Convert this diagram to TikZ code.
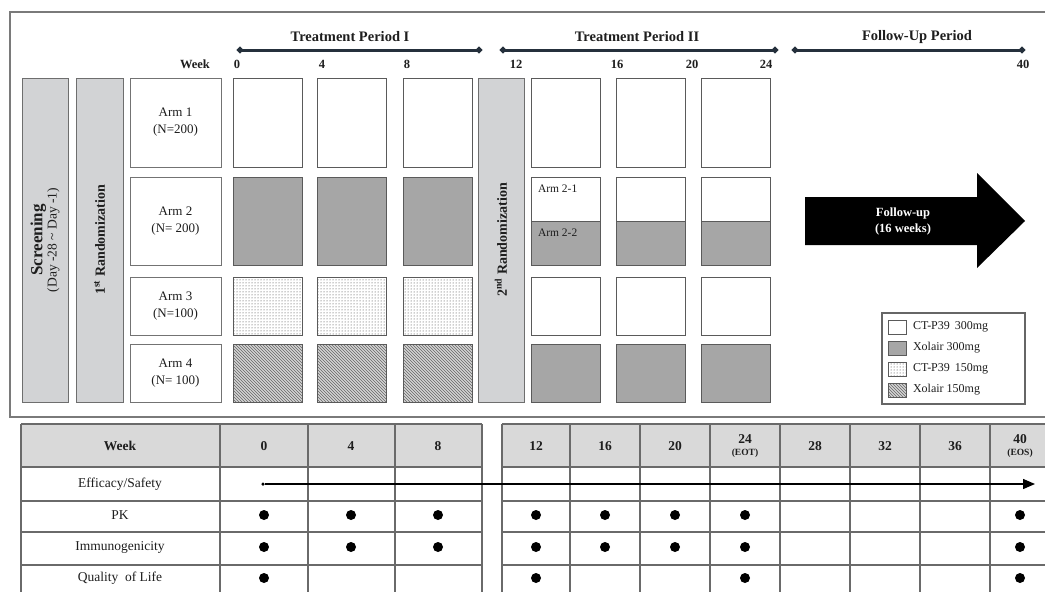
\documentclass[tikz,border=0pt]{standalone}
\usepackage{fontspec}
\setmainfont{Liberation Serif}
\usetikzlibrary{patterns,arrows.meta,fit}
\definecolor{frameC}{HTML}{7A7A7A}
\definecolor{colFill}{HTML}{D2D3D5}
\definecolor{colLine}{HTML}{6E6E6E}
\definecolor{boxLine}{HTML}{5A5A5A}
\definecolor{tGray}{HTML}{A6A6A6}
\definecolor{hatchFill}{HTML}{D4D4D4}
\definecolor{navy}{HTML}{25303C}
\definecolor{hdrFill}{HTML}{D9D9D9}
\definecolor{tabLine}{HTML}{6A6A6A}
\definecolor{txt}{HTML}{1E1E1E}
\newcommand\fs[2]{\fontsize{#1}{#2}\selectfont}
\begin{document}
\begin{tikzpicture}[x=1pt,y=-1pt,
  every node/.style={inner sep=0pt, outer sep=0pt, text=txt},
  bx/.style={draw=boxLine, line width=1pt, fill=white},
  gbx/.style={draw=boxLine, line width=1pt, fill=tGray},
  dbx/.style={draw=boxLine, line width=1pt, fill=white, pattern=dots, pattern color=black!80},
  hbx/.style={draw=boxLine, line width=1pt, preaction={fill=hatchFill}, pattern=north west lines, pattern color=black!60},
  col/.style={draw=colLine, line width=1pt, fill=colFill},
  armbox/.style={draw=black!55, line width=1pt, fill=white, align=center, font=\fs{13}{17}},
  pline/.style={navy, line width=3pt, {Circle[length=6pt]}-{Circle[length=6pt]}},
  ptitle/.style={font=\bfseries\fs{14.5}{16}},
  wk/.style={font=\bfseries\fs{12.5}{14}},
  leg/.style={anchor=west, font=\fs{12}{14}},
  tlab/.style={font=\fs{13.5}{16}},
  thd/.style={font=\bfseries\fs{13.5}{15}, align=center},
  dot/.style={circle, fill=black, minimum size=10pt},
  tline/.style={draw=tabLine, line width=1.1pt}
]
\useasboundingbox (0,0) rectangle (1045,592);
\clip (0,0) rectangle (1045,592);
\fill[white] (0,0) rectangle (1045,592);

% outer frame
\draw[frameC, line width=1.6pt] (10,12) rectangle (1070,417);

% period lines
\coordinate (p1a) at (237,50); \coordinate (p1b) at (482,50);
\coordinate (p2a) at (500,50); \coordinate (p2b) at (778,50);
\coordinate (p3a) at (792,50); \coordinate (p3b) at (1025,50);
\draw[pline] (p1a) -- (p1b);
\draw[pline] (p2a) -- (p2b);
\draw[pline] (p3a) -- (p3b);
\node[ptitle] (t1) at (350,37) {Treatment Period I};
\node[ptitle] (t2) at (637,37) {Treatment Period II};
\node[ptitle] (t3) at (917,37) {Follow-Up Period};

% week labels
\node[wk] (wkl) at (195,64) {Week};
\node[wk] (w0) at (237,64) {0};
\node[wk] (w4) at (322,64) {4};
\node[wk] (w8) at (407,64) {8};
\node[wk] (w12) at (516,64) {12};
\node[wk] (w16) at (617,64) {16};
\node[wk] (w20) at (692,64) {20};
\node[wk] (w24) at (766,64) {24};
\node[wk] (w40) at (1023,64) {40};

% screening and randomization columns
\node[col, fit={(22,78) (68,402)}] (scr) {};
\node[rotate=90, align=center] (scrt) at (scr.center) {{\bfseries\fs{17}{19}Screening}\\{\fs{13.5}{17}(Day -28 \textasciitilde{} Day -1)}};
\node[col, fit={(76,78) (123,402)}] (r1) {};
\node[rotate=90, font=\bfseries\fs{14}{16}] (r1t) at (r1.center) {1\textsuperscript{st} Randomization};
\node[col, fit={(478,78) (524,402)}] (r2) {};
\node[rotate=90, font=\bfseries\fs{14}{16}] (r2t) at (r2.center) {2\textsuperscript{nd} Randomization};

% arm labels
\node[armbox, fit={(130,78) (221,167)}] (a1) {};
\node[align=center, font=\fs{13}{17}] (a1t) at (a1.center) {Arm 1\\(N=200)};
\node[armbox, fit={(130,177) (221,265)}] (a2) {};
\node[align=center, font=\fs{13}{17}] (a2t) at (a2.center) {Arm 2\\(N= 200)};
\node[armbox, fit={(130,277) (221,335)}] (a3) {};
\node[align=center, font=\fs{13}{17}] (a3t) at (a3.center) {Arm 3\\(N=100)};
\node[armbox, fit={(130,344) (221,402)}] (a4) {};
\node[align=center, font=\fs{13}{17}] (a4t) at (a4.center) {Arm 4\\(N= 100)};

% treatment period I
\foreach \x/\n in {233/a,317/b,403/c}{
  \node[bx, fit={(\x,78) ({\x+69},167)}] (r1\n) {};
  \node[gbx, fit={(\x,177) ({\x+69},265)}] (r2\n) {};
  \node[dbx, fit={(\x,277) ({\x+69},335)}] (r3\n) {};
  \node[hbx, fit={(\x,344) ({\x+69},402)}] (r4\n) {};
}
% treatment period II
\foreach \x/\n in {531/d,616/e,701/f}{
  \node[bx, fit={(\x,78) ({\x+69},167)}] (r1\n) {};
  \node[bx, fit={(\x,177) ({\x+69},221)}] (r2\n top) {};
  \node[gbx, fit={(\x,221) ({\x+69},265)}] (r2\n bot) {};
  \node[bx, fit={(\x,277) ({\x+69},335)}] (r3\n) {};
  \node[gbx, fit={(\x,344) ({\x+69},402)}] (r4\n) {};
}
\node[anchor=west, font=\fs{11.5}{13}] (a21) at (538,189) {Arm 2-1};
\node[anchor=west, font=\fs{11.5}{13}] (a22) at (538,233) {Arm 2-2};

% follow-up arrow
\fill[black] (805,197) -- (977,197) -- (977,173) -- (1025,221) -- (977,268) -- (977,245) -- (805,245) -- cycle;
\node[align=center, font=\bfseries\fs{12.5}{16}, text=white] (fu) at (903,221) {Follow-up\\(16 weeks)};

% legend
\node[draw=black!60, line width=1.1pt, fill=white, fit={(882,313) (1025,404)}] (legbox) {};
\node[bx, fit={(888,320) (906,334)}] (l1) {};
\node[gbx, fit={(888,341) (906,355)}] (l2) {};
\node[dbx, fit={(888,362) (906,376)}] (l3) {};
\node[hbx, fit={(888,383) (906,397)}] (l4) {};
\node[leg] (l1t) at (913,327) {CT-P39\, 300mg};
\node[leg] (l2t) at (913,348) {Xolair 300mg};
\node[leg] (l3t) at (913,369) {CT-P39\, 150mg};
\node[leg] (l4t) at (913,390) {Xolair 150mg};

% ===== table =====
\fill[hdrFill] (21,424) rectangle (482,467);
\fill[hdrFill] (502,424) rectangle (1060,467);
\foreach \y in {424,467,501,532,565}{
  \draw[tline] (21,\y) -- (482,\y);
  \draw[tline] (502,\y) -- (1060,\y);
}
\foreach \x in {21,220,308,395,482}{ \draw[tline] (\x,424) -- (\x,600); }
\foreach \x in {502,570,640,710,780,850,920,990}{ \draw[tline] (\x,424) -- (\x,600); }

\node[thd] (hw) at (120,446) {Week};
\node[thd] (h0) at (264,446) {0};
\node[thd] (h4) at (351,446) {4};
\node[thd] (h8) at (438,446) {8};
\node[thd] (h12) at (536,446) {12};
\node[thd] (h16) at (605,446) {16};
\node[thd] (h20) at (675,446) {20};
\node[thd] (h24) at (745,446) {24\\[-3pt]{\fs{9.5}{10}(EOT)}};
\node[thd] (h28) at (815,446) {28};
\node[thd] (h32) at (885,446) {32};
\node[thd] (h36) at (955,446) {36};
\node[thd] (h40) at (1020,446) {40\\[-3pt]{\fs{9.5}{10}(EOS)}};

\node[tlab] (eff) at (120,484) {Efficacy/Safety};
\node[tlab] (pk) at (120,515) {PK};
\node[tlab] (imm) at (120,547) {Immunogenicity};
\node[tlab] (qol) at (120,578) {Quality\ \ of Life};

% efficacy arrow
\node[circle, fill=black, minimum size=3.5pt] (effs) at (263,484) {};
\coordinate (effe) at (1035,484);
\draw[black, line width=1.4pt, -{Triangle[length=12pt,width=10pt]}] (effs) -- (effe);

% dots
\foreach \x/\n in {264/a,351/b,438/c,536/d,605/e,675/f,745/g,1020/h}{
  \node[dot] (pk\n) at (\x,515) {};
  \node[dot] (im\n) at (\x,547) {};
}
\foreach \x/\n in {264/a,536/d,745/g,1020/h}{
  \node[dot] (ql\n) at (\x,578) {};
}
\end{tikzpicture}
\end{document}
